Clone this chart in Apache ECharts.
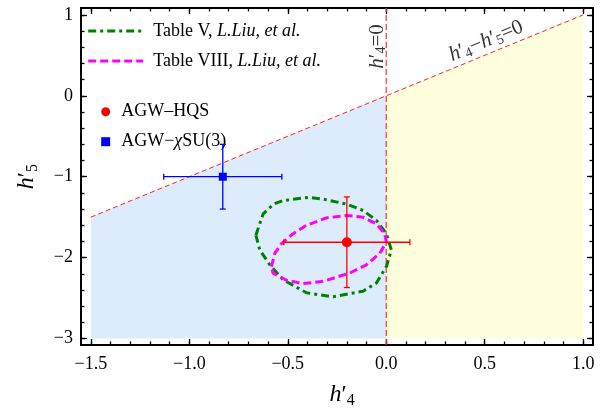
<!DOCTYPE html>
<html>
<head>
<meta charset="utf-8">
<script src="https://cdn.jsdelivr.net/npm/echarts@6/dist/echarts.min.js"></script>
<style>html,body{margin:0;padding:0;background:#fff}#c{width:611px;height:414px}</style>
</head>
<body>
<div id="c"></div>
<script>
// ---------- data ----------
const xLimits = [-1.55, 1.05];
const yLimits = [-3.08, 1.085];
const xMajorTicks = [-1.5, -1.0, -0.5, 0, 0.5, 1.0];
const yMajorTicks = [-3, -2, -1, 0, 1];
const xMinorTicks = [-1.5,-1.4,-1.3,-1.2,-1.1,-1.0,-0.9,-0.8,-0.7,-0.6,-0.5,-0.4,-0.3,-0.2,-0.1,0,0.1,0.2,0.3,0.4,0.5,0.6,0.7,0.8,0.9,1.0];
const yMinorTicks = [-3,-2.8,-2.6,-2.4,-2.2,-2,-1.8,-1.6,-1.4,-1.2,-1,-0.8,-0.6,-0.4,-0.2,0,0.2,0.4,0.6,0.8,1];

const blueRegion = [[-1.5,-3],[-1.5,-1.5],[0,0],[0,-3]];
const yellowRegion = [[0,-3],[0,0],[1,1],[1,-3]];
const diagonalLine = [[-1.5,-1.5],[1,1]];
const verticalLine = [[0,-3.08],[0,1.085]];

const tableVName = 'Table V, L.Liu, et al.';
const tableVIIIName = 'Table VIII, L.Liu, et al.';
const tableVContour = [
  [-0.662,-1.723],[-0.625,-1.460],[-0.572,-1.338],[-0.524,-1.296],[-0.397,-1.256],
  [-0.321,-1.277],[-0.202,-1.338],[-0.117,-1.418],[-0.050,-1.540],[0.001,-1.704],
  [0.026,-1.906],[0.001,-2.110],[-0.050,-2.313],[-0.118,-2.415],[-0.270,-2.484],
  [-0.405,-2.435],[-0.524,-2.272],[-0.591,-2.089],[-0.642,-1.906],[-0.662,-1.723]
];
const tableVIIIContour = [
  [-0.583,-2.110],[-0.566,-1.948],[-0.532,-1.826],[-0.473,-1.704],[-0.405,-1.601],
  [-0.304,-1.509],[-0.202,-1.479],[-0.118,-1.500],[-0.050,-1.582],[-0.008,-1.704],
  [0.001,-1.805],[-0.033,-1.948],[-0.101,-2.089],[-0.185,-2.191],[-0.321,-2.293],
  [-0.422,-2.321],[-0.507,-2.280],[-0.575,-2.191],[-0.583,-2.110]
];

const hqsName = 'AGW–HQS';
const hqsPoint = [-0.2, -1.81];
const hqsError = [0.32, 0.56];
const suName = 'AGW−χSU(3)';
const suPoint = [-0.83, -1.0];
const suError = [0.30, 0.40];

const annotVertical = [-0.044, 0.61];
const annotDiagonal = [0.509, 0.67];

// ---------- styling ----------
const FONT = 'Liberation Serif';
const chart = echarts.init(document.getElementById('c'), null, {renderer:'canvas'});

const hRich = {
  h:{fontFamily:FONT,fontStyle:'italic',fontSize:21,lineHeight:22,verticalAlign:'top',color:'#000'},
  p:{fontFamily:FONT,fontSize:21,lineHeight:22,verticalAlign:'top',color:'#000'},
  s:{fontFamily:FONT,fontSize:14,lineHeight:14,verticalAlign:'top',padding:[8,0,0,0],color:'#000'},
  t:{fontFamily:FONT,fontSize:21,lineHeight:22,verticalAlign:'top',color:'#000'}
};
const nameRich = {
  h:{fontFamily:FONT,fontStyle:'italic',fontSize:24,lineHeight:26,verticalAlign:'top',color:'#000'},
  p:{fontFamily:FONT,fontSize:24,lineHeight:26,verticalAlign:'top',color:'#000'},
  s:{fontFamily:FONT,fontSize:16,lineHeight:16,verticalAlign:'top',padding:[10,0,0,0],color:'#000'}
};

function minusFmt(s){ return s.replace('-', '\u2212'); }

function makeAxis(dim, pos, ticks, len, withLabel, withName){
  const isX = dim === 'x';
  const ax = {
    type:'value', position:pos, min: isX ? xLimits[0] : yLimits[0], max: isX ? xLimits[1] : yLimits[1],
    gridIndex:0,
    axisLine:{show:true,onZero:false,lineStyle:{color:'#000',width:2}},
    axisTick:{show:true,inside:true,length:len,customValues:ticks,lineStyle:{color:'#000',width:1.3}},
    axisLabel:{show:withLabel},
    splitLine:{show:false}
  };
  if (withLabel){
    ax.axisLabel = {show:true,customValues:ticks,margin: isX ? 10 : 8,
      fontFamily:FONT,fontSize:18,color:'#000',
      formatter: v => isX ? minusFmt(Number(v).toFixed(1)) : minusFmt(String(Math.round(v)))};
  }
  if (withName){
    ax.nameLocation = 'middle';
    ax.nameTextStyle = {rich:nameRich, fontFamily:FONT, padding: isX ? [0,0,0,10] : [0,0,0,0]};
    ax.name = isX ? '{h|h}{p|\u2032}{s|4}' : '{h|h}{p|\u2032}{s|5}';
    ax.nameGap = isX ? 38 : 40;
  }
  return ax;
}

function regionSeries(points, color){
  return {
    type:'custom', xAxisIndex:0, yAxisIndex:0, silent:true, z:1,
    data:[0],
    renderItem:(params, api) => ({
      type:'polygon',
      shape:{points: points.map(p => api.coord(p))},
      style:{fill:color, stroke:'none'}
    })
  };
}

function errorSeries(point, err, color){
  return {
    type:'custom', xAxisIndex:0, yAxisIndex:0, silent:true, z:5,
    data:[[point[0], point[1], err[0], err[1]]],
    renderItem:(params, api) => {
      const x = api.value(0), y = api.value(1), ex = api.value(2), ey = api.value(3);
      const l = api.coord([x-ex, y]), r = api.coord([x+ex, y]);
      const t = api.coord([x, y+ey]), b = api.coord([x, y-ey]);
      const c = 3;
      const st = {stroke:color, lineWidth:1.3};
      return {type:'group', children:[
        {type:'line', shape:{x1:l[0],y1:l[1],x2:r[0],y2:r[1]}, style:st},
        {type:'line', shape:{x1:t[0],y1:t[1],x2:b[0],y2:b[1]}, style:st},
        {type:'line', shape:{x1:l[0],y1:l[1]-c,x2:l[0],y2:l[1]+c}, style:st},
        {type:'line', shape:{x1:r[0],y1:r[1]-c,x2:r[0],y2:r[1]+c}, style:st},
        {type:'line', shape:{x1:t[0]-c,y1:t[1],x2:t[0]+c,y2:t[1]}, style:st},
        {type:'line', shape:{x1:b[0]-c,y1:b[1],x2:b[0]+c,y2:b[1]}, style:st}
      ]};
    }
  };
}

function legendFmt(name){
  if (name === tableVName) return '{n|Table V, }{i|L.Liu, et al.}';
  if (name === tableVIIIName) return '{n|Table VIII, }{i|L.Liu, et al.}';
  if (name === hqsName) return '{m|AGW–HQS}';
  if (name === suName) return '{m|AGW−}{mi|χ}{r|SU(3)}';
  return name;
}
const legendRich = {
  n:{fontFamily:FONT,fontSize:18,color:'#000',padding:[0,0,0,5]},
  i:{fontFamily:FONT,fontSize:18,fontStyle:'italic',color:'#000'},
  m:{fontFamily:FONT,fontSize:18,color:'#000',padding:[0,0,0,6]},
  mi:{fontFamily:FONT,fontSize:18,fontStyle:'italic',color:'#000'},
  r:{fontFamily:FONT,fontSize:18,color:'#000'}
};

const option = {
  animation:false,
  backgroundColor:'#fff',
  textStyle:{fontFamily:FONT},
  grid:{left:81, top:8, width:512, height:341.5, containLabel:false},
  xAxis:[
    makeAxis('x','bottom',xMajorTicks,6,true,true),
    makeAxis('x','bottom',xMinorTicks,3.5,false,false),
    makeAxis('x','top',xMajorTicks,6,false,false),
    makeAxis('x','top',xMinorTicks,3.5,false,false)
  ],
  yAxis:[
    makeAxis('y','left',yMajorTicks,6,true,true),
    makeAxis('y','left',yMinorTicks,3.5,false,false),
    makeAxis('y','right',yMajorTicks,6,false,false),
    makeAxis('y','right',yMinorTicks,3.5,false,false)
  ],
  legend:[
    {data:[tableVName, tableVIIIName], orient:'vertical', left:86.7, top:22, padding:0, itemWidth:55, itemHeight:18, itemGap:12,
     selectedMode:false, formatter:legendFmt, textStyle:{rich:legendRich, lineHeight:18, fontFamily:FONT},
     itemStyle:{opacity:0}, lineStyle:{width:3}},
    {data:[hqsName, suName], orient:'vertical', left:101.2, top:102.7, padding:0, itemWidth:9, itemHeight:9, itemGap:12,
     selectedMode:false, formatter:legendFmt, textStyle:{rich:legendRich, lineHeight:18, fontFamily:FONT}}
  ],
  series:[
    regionSeries(blueRegion, '#ddecfc'),
    regionSeries(yellowRegion, '#ffffdd'),
    {type:'line', data:diagonalLine, xAxisIndex:0, yAxisIndex:0, symbol:'none', silent:true, z:2,
     lineStyle:{color:'#ff2020', width:1, type:[5,3]}},
    {type:'line', data:verticalLine, xAxisIndex:0, yAxisIndex:0, symbol:'none', silent:true, z:2, clip:false,
     lineStyle:{color:'#ff3030', width:1.2, type:[6,3]}},
    {name:tableVName, type:'line', data:tableVContour, xAxisIndex:0, yAxisIndex:0, symbol:'none', silent:true, z:3,
     itemStyle:{color:'#008000'}, lineStyle:{color:'#008000', width:3, type:[8,4,3,4]}},
    {name:tableVIIIName, type:'line', data:tableVIIIContour, xAxisIndex:0, yAxisIndex:0, symbol:'none', silent:true, z:3,
     itemStyle:{color:'#ff00ff'}, lineStyle:{color:'#ff00ff', width:3, type:[8,4]}},
    errorSeries(hqsPoint, hqsError, '#ff0000'),
    errorSeries(suPoint, suError, '#0000ff'),
    {name:hqsName, type:'scatter', data:[hqsPoint], xAxisIndex:0, yAxisIndex:0, symbol:'circle', symbolSize:10, z:6,
     itemStyle:{color:'#ff0000', opacity:1}},
    {name:suName, type:'scatter', data:[suPoint], xAxisIndex:0, yAxisIndex:0, symbol:'rect', symbolSize:8, z:6,
     itemStyle:{color:'#0000ff', opacity:1}},
    {type:'scatter', xAxisIndex:0, yAxisIndex:0, silent:true, z:7, symbolSize:1, itemStyle:{color:'rgba(0,0,0,0)'},
     data:[
       {value:annotVertical, label:{show:true, position:'inside', rotate:90, formatter:'{h|h}{p|\u2032}{s|4}{t|=0}', rich:hRich}},
       {value:annotDiagonal, label:{show:true, position:'inside', rotate:22.7, formatter:'{h|h}{p|\u2032}{s|4}{t|\u2212}{h|h}{p|\u2032}{s|5}{t|=0}', rich:hRich}}
     ]}
  ]
};
chart.setOption(option);
</script>
</body>
</html>
